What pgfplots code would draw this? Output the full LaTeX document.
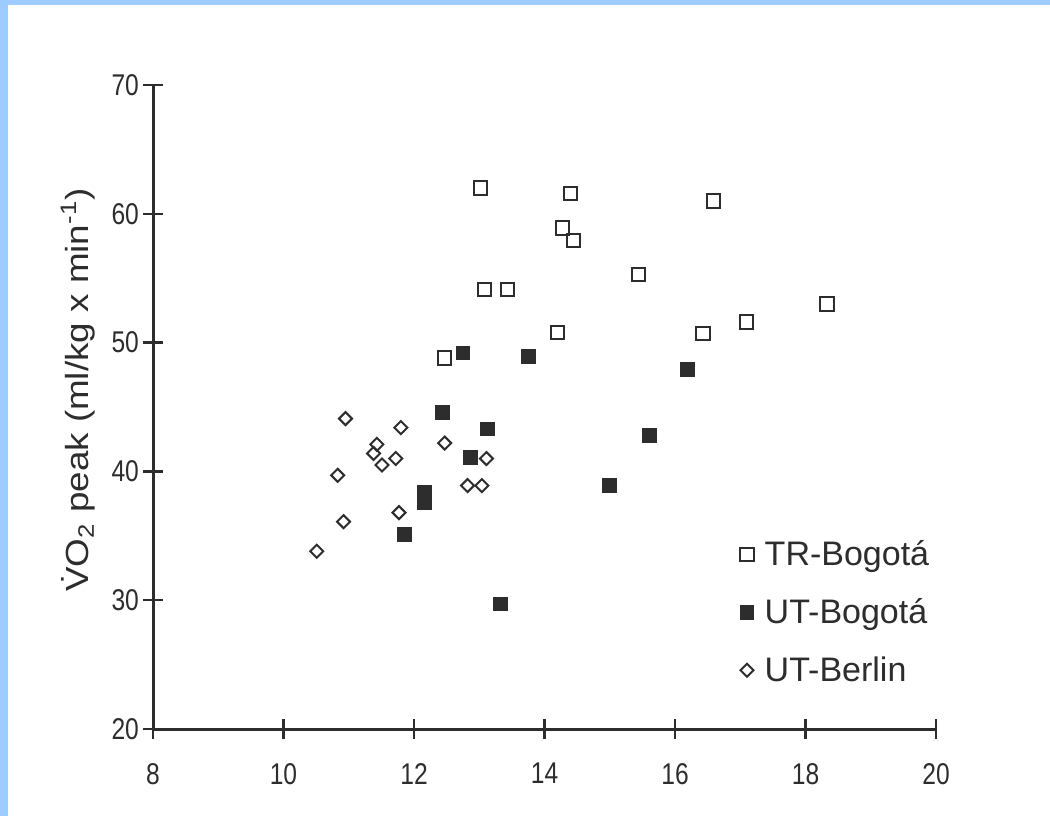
\documentclass[border=0pt]{standalone}
\usepackage{pgfplots}
\pgfplotsset{compat=1.18}
\usepackage{pgfplotstable}
\usepackage{fontspec}
\setmainfont{Liberation Sans}
\newfontfamily\tickfont[FakeStretch=0.82]{Liberation Sans}
\definecolor{frameblue}{RGB}{158,204,255}
\definecolor{ink}{RGB}{45,45,45}

% TR-Bogota (open squares)
\pgfplotstableread{
x y
13.02 62.0
14.40 61.6
16.59 61.0
14.28 58.9
14.44 57.9
15.44 55.3
13.08 54.1
13.43 54.1
14.20 50.8
12.47 48.8
16.43 50.7
17.09 51.6
18.33 53.0
}\trbogota

% UT-Bogota (filled squares)
\pgfplotstableread{
x y
12.75 49.2
13.76 48.9
12.44 44.6
13.13 43.3
12.87 41.1
12.16 38.4
12.16 37.6
11.86 35.1
16.19 47.9
15.61 42.8
15.00 38.9
13.33 29.7
}\utbogota

% UT-Berlin (diamonds)
\pgfplotstableread{
x y
10.95 44.1
11.80 43.4
11.43 42.1
11.38 41.4
11.51 40.5
11.72 41.0
12.47 42.2
13.11 41.0
10.83 39.7
12.82 38.9
13.04 38.9
11.77 36.8
10.92 36.1
10.51 33.8
}\utberlin

\begin{document}
\begin{tikzpicture}
\fill[frameblue] (0pt,0pt) rectangle (525pt,-408pt);
\fill[white] (3.75pt,-2.5pt) rectangle (525pt,-408pt);
\begin{axis}[
  at={(76.5pt,-364.5pt)}, anchor=south west,
  scale only axis, width=391.5pt, height=322pt,
  xmin=8, xmax=20, ymin=20, ymax=70,
  axis lines*=left,
  axis line style={ink, line width=1.5pt},
  xtick={8,10,...,20}, ytick={20,30,...,70},
  tick align=center, major tick length=10pt,
  tick style={ink, line width=1.2pt},
  ticklabel style={font=\tickfont\fontsize{15}{15}\selectfont, text=ink},
  xticklabel style={yshift=-8.5pt},
  yticklabel style={xshift=1.5pt},
  /pgf/number format/assume math mode=true,
  clip=false,
  legend style={draw=none, fill=none, at={(axis cs:16.9,35.3)}, anchor=north west,
    font=\fontsize{17}{20}\selectfont, text=ink, row sep=11pt},
  legend cell align=left,
]
\addplot[only marks, mark=square, mark size=3.3pt, draw=ink, line width=1pt, mark options={fill=white}]
  table {\trbogota};
\addplot[only marks, mark=square*, mark size=3.4pt, draw=ink, fill=ink, line width=0.6pt]
  table {\utbogota};
\addplot[only marks, mark=square, mark size=2.3pt, draw=ink, line width=1pt, mark options={rotate=45, fill=white}]
  table {\utberlin};
\legend{\hspace{3.5pt}TR-Bogotá, \hspace{3.5pt}UT-Bogotá, \hspace{3.5pt}UT-Berlin}
\end{axis}
\node[rotate=90, text=ink, font=\fontsize{16}{19}\selectfont] at (39pt,-195pt)
  {\scalebox{1.15}[1]{\.{V}O\textsubscript{2} peak (ml/kg x min\textsuperscript{-1})}};
\end{tikzpicture}
\end{document}
